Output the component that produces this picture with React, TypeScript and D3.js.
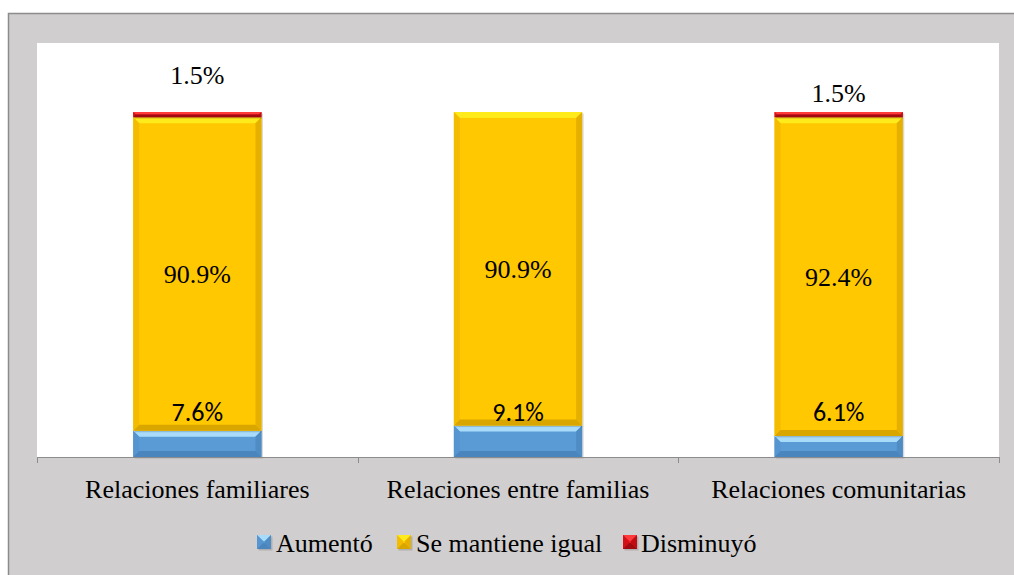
import React from "react";
import * as d3 from "d3";

const categories = ["Relaciones familiares", "Relaciones entre familias", "Relaciones comunitarias"];
const seriesNames = ["Aumentó", "Se mantiene igual", "Disminuyó"];
const aumento = [7.6, 9.1, 6.1];
const mantiene = [90.9, 90.9, 92.4];
const disminuyo = [1.5, 0, 1.5];

const W = 1014;
const H = 575;

type Pal = { base: string; top: string; side: string; right: string; bottom: string };
const palettes: Pal[] = [
  { base: "#5b9bd5", top: "#a8dbfa", side: "#5696d0", right: "#4f8cc4", bottom: "#4a86bd" },
  { base: "#ffc800", top: "#ffea1c", side: "#f4bc00", right: "#e6b000", bottom: "#d9a600" },
  { base: "#e8161e", top: "#ff3a3a", side: "#d41018", right: "#c00d14", bottom: "#a00a10" },
];

function BevelRect({ x, y, w, h, pal }: { x: number; y: number; w: number; h: number; pal: Pal }) {
  const b = Math.min(6, h / 2);
  return (
    <g>
      <rect x={x + 1.5} y={y + 1.5} width={w} height={h} fill="#000" opacity={0.15} />
      <rect x={x} y={y} width={w} height={h} fill={pal.base} />
      <polygon points={`${x},${y} ${x + w},${y} ${x + w - b},${y + b} ${x + b},${y + b}`} fill={pal.top} />
      <polygon points={`${x},${y} ${x + b},${y + b} ${x + b},${y + h - b} ${x},${y + h}`} fill={pal.side} />
      <polygon points={`${x + w},${y} ${x + w},${y + h} ${x + w - b},${y + h - b} ${x + w - b},${y + b}`} fill={pal.right} />
      <polygon points={`${x},${y + h} ${x + b},${y + h - b} ${x + w - b},${y + h - b} ${x + w},${y + h}`} fill={pal.bottom} />
    </g>
  );
}

const SERIF: React.CSSProperties = { fontFamily: "Liberation Serif", fontSize: "26px" };
const SANS: React.CSSProperties = { fontFamily: "Carlito", fontSize: "26px" };

export default function App() {
  const plot = { left: 37, right: 999, top: 43, bottom: 457 };
  const x = d3.scaleBand<string>().domain(categories).range([plot.left, plot.right]).paddingInner(0.6).paddingOuter(0.3);
  const y = d3.scaleLinear().domain([0, 120]).range([plot.bottom, plot.top]);
  const step = x.step();
  const fmt = (v: number) => v.toFixed(1) + "%";
  const series = [aumento, mantiene, disminuyo];
  const redOffsets = [36, 0, 18];

  const tickXs = d3.range(categories.length + 1).map((i) => plot.left + i * step);

  const legendItems = [
    { sq: 257, tx: 276 },
    { sq: 397, tx: 416 },
    { sq: 623, tx: 641 },
  ];

  return (
    <svg width={W} height={H} style={{ position: "absolute", left: 0, top: 0, fontFamily: "Liberation Serif" }}>
      <rect x={0} y={0} width={W} height={H} fill="#fff" />
      <rect x={8.5} y={13.5} width={W + 10} height={H} fill="#d0cece" stroke="#8c8c8c" strokeWidth={1.5} />
      <rect x={plot.left} y={plot.top} width={plot.right - plot.left} height={plot.bottom - plot.top} fill="#fff" />
      {categories.map((c, i) => {
        const bx = x(c)!;
        const bw = x.bandwidth();
        let cum = 0;
        return (
          <g key={c}>
            {series.map((s, k) => {
              const v = s[i];
              const y0 = y(cum + v);
              const y1 = y(cum);
              cum += v;
              if (v <= 0) return null;
              return <BevelRect key={k} x={bx} y={y0} w={bw} h={y1 - y0} pal={palettes[k]} />;
            })}
          </g>
        );
      })}
      <line x1={plot.left} x2={plot.right} y1={plot.bottom + 0.5} y2={plot.bottom + 0.5} stroke="#8c8c8c" strokeWidth={1} />
      {tickXs.map((t, i) => (
        <line key={i} x1={Math.round(t) + 0.5} x2={Math.round(t) + 0.5} y1={plot.bottom} y2={plot.bottom + 6} stroke="#8c8c8c" />
      ))}
      {categories.map((c, i) => {
        const cx = x(c)! + x.bandwidth() / 2;
        const midMant = y(aumento[i] + mantiene[i] / 2);
        const topAll = y(aumento[i] + mantiene[i] + disminuyo[i]);
        return (
          <g key={"l" + c}>
            <text x={cx} y={midMant + 9} textAnchor="middle" style={SERIF} fill="#000">
              {fmt(mantiene[i])}
            </text>
            <text x={cx} y={plot.bottom - 36} textAnchor="middle" style={SANS} fill="#000">
              {fmt(aumento[i])}
            </text>
            {disminuyo[i] > 0 && (
              <text x={cx} y={topAll - redOffsets[i] + 8} textAnchor="middle" style={SERIF} fill="#000">
                {fmt(disminuyo[i])}
              </text>
            )}
            <text x={cx} y={498} textAnchor="middle" style={SERIF} fill="#000">
              {c}
            </text>
          </g>
        );
      })}
      {seriesNames.map((n, k) => (
        <g key={n}>
          <BevelRect x={legendItems[k].sq} y={535} w={14} h={14} pal={palettes[k]} />
          <text x={legendItems[k].tx} y={552} style={SERIF} fill="#000">
            {n}
          </text>
        </g>
      ))}
    </svg>
  );
}
